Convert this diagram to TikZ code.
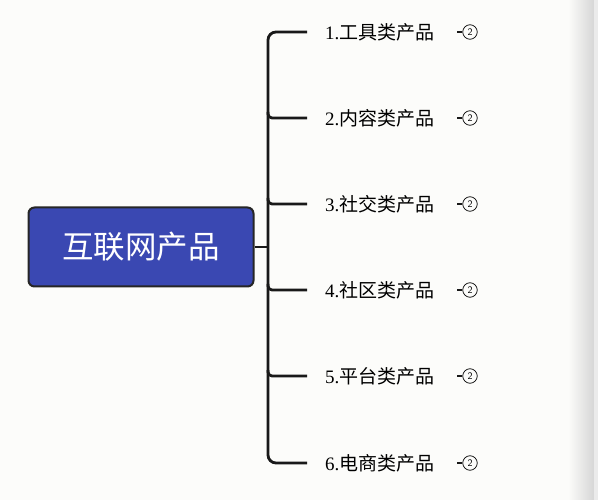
\documentclass[tikz,border=0pt]{standalone}
\usepackage{fontspec}
\setmainfont{Liberation Serif}
\newfontfamily\cjk{Noto Sans CJK SC}
\definecolor{hubblue}{RGB}{58,72,178}
\definecolor{paper}{RGB}{252,252,250}

\begin{document}
\begin{tikzpicture}[x=1pt,y=-1pt,
  hub/.style={draw=black!85,line width=2pt,fill=hubblue,rounded corners=6pt,
    minimum width=225pt,minimum height=79pt,text=white,font=\cjk\fontsize{31.5}{36}\selectfont},
  item/.style={anchor=west,inner sep=0pt,font=\fontsize{19}{22}\selectfont},
  branch/.style={line width=2.8pt,black!90},
  stub/.style={line width=2pt,black!90},
  count/.style={draw,circle,line width=0.7pt,inner sep=0pt,minimum size=14.5pt,font=\sffamily\fontsize{10}{11}\selectfont}]
  \fill[paper] (0,0) rectangle (598,500);
  \shade[left color=paper,right color=black!16] (568,0) rectangle (594,500);
  \fill[black!8] (594,0) rectangle (598,500);
  \useasboundingbox (0,0) rectangle (598,500);

  % root
  \node[hub] (hub) at (141,247) {互联网产品};
  \coordinate (j) at (268,247);

  % branch ends
  \coordinate (e1) at (307,32);
  \coordinate (e2) at (307,118);
  \coordinate (e3) at (307,204);
  \coordinate (e4) at (307,290);
  \coordinate (e5) at (307,376);
  \coordinate (e6) at (307,463);

  % items
  \node[item] (i1) at (325,32) {1.{\cjk 工具类产品}};
  \node[item] (i2) at (325,118) {2.{\cjk 内容类产品}};
  \node[item] (i3) at (325,204) {3.{\cjk 社交类产品}};
  \node[item] (i4) at (325,290) {4.{\cjk 社区类产品}};
  \node[item] (i5) at (325,376) {5.{\cjk 平台类产品}};
  \node[item] (i6) at (325,463) {6.{\cjk 电商类产品}};

  % counters
  \node[count] (c1) at (470,32) {2};
  \node[count] (c2) at (470,118) {2};
  \node[count] (c3) at (470,204) {2};
  \node[count] (c4) at (470,290) {2};
  \node[count] (c5) at (470,376) {2};
  \node[count] (c6) at (470,463) {2};
  \coordinate (s1) at (457,32);
  \coordinate (s2) at (457,118);
  \coordinate (s3) at (457,204);
  \coordinate (s4) at (457,290);
  \coordinate (s5) at (457,376);
  \coordinate (s6) at (457,463);
  \draw[stub] (s1) -- (c1);
  \draw[stub] (s2) -- (c2);
  \draw[stub] (s3) -- (c3);
  \draw[stub] (s4) -- (c4);
  \draw[stub] (s5) -- (c5);
  \draw[stub] (s6) -- (c6);

  % tree
  \draw[branch] (hub.east) -- (j);
  \draw[branch,rounded corners=8pt] (e1) -| (j) |- (e6);
  \draw[branch,rounded corners=4pt] (j |- e2) ++(0,-6) |- (e2);
  \draw[branch,rounded corners=4pt] (j |- e3) ++(0,-6) |- (e3);
  \draw[branch,rounded corners=4pt] (j |- e4) ++(0,-6) |- (e4);
  \draw[branch,rounded corners=4pt] (j |- e5) ++(0,-6) |- (e5);
\end{tikzpicture}
\end{document}
